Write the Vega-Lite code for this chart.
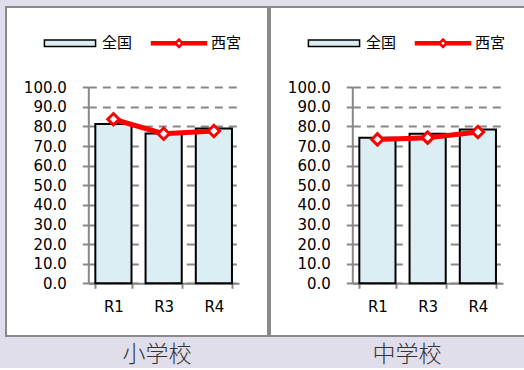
{
  "$schema": "https://vega.github.io/schema/vega-lite/v6.json",
  "background": "#e1deec",
  "padding": {"left": 5, "top": 6, "right": 0, "bottom": 0},
  "config": {
    "view": {"fill": "white", "stroke": "#8a8a8a", "strokeWidth": 2},
    "axis": {"labelFont": "DejaVu Sans", "labelFontSize": 15, "labelColor": "#000", "title": null},
    "legend": {
      "orient": "none", "legendX": 35.5, "legendY": 7.5, "direction": "horizontal", "title": null, "padding": 0,
      "symbolSize": 3025, "symbolOpacity": 1, "labelFont": "Noto Sans CJK JP", "labelFontSize": 15, "labelColor": "#000", "labelOffset": 3.5, "columnPadding": 16
    }
  },
  "data": {
    "values": [
      {"school": "小学校", "period": "R1", "series": "全国", "value": 81.3},
      {"school": "小学校", "period": "R3", "series": "全国", "value": 76.4},
      {"school": "小学校", "period": "R4", "series": "全国", "value": 79.0},
      {"school": "小学校", "period": "R1", "series": "西宮", "value": 83.7},
      {"school": "小学校", "period": "R3", "series": "西宮", "value": 76.3},
      {"school": "小学校", "period": "R4", "series": "西宮", "value": 77.7},
      {"school": "中学校", "period": "R1", "series": "全国", "value": 74.2},
      {"school": "中学校", "period": "R3", "series": "全国", "value": 76.3},
      {"school": "中学校", "period": "R4", "series": "全国", "value": 78.5},
      {"school": "中学校", "period": "R1", "series": "西宮", "value": 73.4},
      {"school": "中学校", "period": "R3", "series": "西宮", "value": 74.3},
      {"school": "中学校", "period": "R4", "series": "西宮", "value": 77.2}
    ]
  },
  "spacing": 0,
  "resolve": {
    "scale": {"color": "independent", "x": "independent", "y": "independent"},
    "legend": {"color": "independent"}
  },
  "hconcat": [
    {
      "width": 262,
      "height": 329,
      "title": {"text": "小学校", "orient": "bottom", "anchor": "middle", "dx": 20, "offset": 8, "font": "Noto Sans CJK JP", "fontSize": 23, "fontWeight": 300, "color": "#333"},
      "transform": [{"filter": "datum.school === '小学校'"}],
      "encoding": {
        "x": {
          "field": "period", "type": "nominal", "sort": ["R1", "R3", "R4"],
          "scale": {"range": [82.3, 233], "paddingInner": 0.28, "paddingOuter": 0.14},
          "axis": {"orient": "bottom", "offset": -52.7, "labelAngle": 0, "tickBand": "extent", "tickSize": 5, "tickWidth": 2, "tickColor": "#888", "domainColor": "#888", "domainWidth": 2, "labelPadding": 11}
        },
        "y": {
          "field": "value", "type": "quantitative",
          "scale": {"domain": [0, 100], "range": [276.3, 80.3], "nice": false},
          "axis": {"values": [0, 10, 20, 30, 40, 50, 60, 70, 80, 90, 100], "format": ".1f", "offset": -82.3, "tickSize": 6, "tickWidth": 2, "tickColor": "#888", "domainColor": "#888", "domainWidth": 2, "grid": true, "gridColor": "#888", "gridWidth": 2, "gridDash": [8, 6], "labelPadding": 16}
        }
      },
      "layer": [
        {
          "transform": [{"filter": "datum.series === '全国'"}],
          "mark": {"type": "bar", "stroke": "#000", "strokeWidth": 2},
          "encoding": {
            "color": {
              "field": "series", "type": "nominal",
              "scale": {"domain": ["全国", "西宮"], "range": ["#daeef3", "#ff0000"]},
              "legend": {
                "symbolType": {"expr": "datum.value === '全国' ? 'M-0.93,-0.12H0.93V0.12H-0.93Z' : 'M-1.0,-0.055H-0.1V0.055H-1.0Z M0.1,-0.055H1.0V0.055H0.1Z M0,-0.16L0.16,0L0,0.16L-0.16,0Z M0,-0.1L-0.1,0L0,0.1L0.1,0Z'"},
                "symbolStrokeColor": {"expr": "datum.value === '全国' ? '#000' : '#ff0000'"}
              }
            }
          }
        },
        {
          "transform": [{"filter": "datum.series === '西宮'"}],
          "mark": {"type": "line", "color": "#ff0000", "strokeWidth": 5}
        },
        {
          "transform": [{"filter": "datum.series === '西宮'"}],
          "mark": {"type": "point", "shape": "diamond", "filled": true, "fill": "white", "stroke": "#ff0000", "strokeWidth": 3, "size": 130, "opacity": 1}
        }
      ]
    },
    {
      "width": 262,
      "height": 329,
      "title": {"text": "中学校", "orient": "bottom", "anchor": "middle", "dx": 6, "offset": 8, "font": "Noto Sans CJK JP", "fontSize": 23, "fontWeight": 300, "color": "#333"},
      "transform": [{"filter": "datum.school === '中学校'"}],
      "encoding": {
        "x": {
          "field": "period", "type": "nominal", "sort": ["R1", "R3", "R4"],
          "scale": {"range": [82.3, 233], "paddingInner": 0.28, "paddingOuter": 0.14},
          "axis": {"orient": "bottom", "offset": -52.7, "labelAngle": 0, "tickBand": "extent", "tickSize": 5, "tickWidth": 2, "tickColor": "#888", "domainColor": "#888", "domainWidth": 2, "labelPadding": 11}
        },
        "y": {
          "field": "value", "type": "quantitative",
          "scale": {"domain": [0, 100], "range": [276.3, 80.3], "nice": false},
          "axis": {"values": [0, 10, 20, 30, 40, 50, 60, 70, 80, 90, 100], "format": ".1f", "offset": -82.3, "tickSize": 6, "tickWidth": 2, "tickColor": "#888", "domainColor": "#888", "domainWidth": 2, "grid": true, "gridColor": "#888", "gridWidth": 2, "gridDash": [8, 6], "labelPadding": 16}
        }
      },
      "layer": [
        {
          "transform": [{"filter": "datum.series === '全国'"}],
          "mark": {"type": "bar", "stroke": "#000", "strokeWidth": 2},
          "encoding": {
            "color": {
              "field": "series", "type": "nominal",
              "scale": {"domain": ["全国", "西宮"], "range": ["#daeef3", "#ff0000"]},
              "legend": {
                "symbolType": {"expr": "datum.value === '全国' ? 'M-0.93,-0.12H0.93V0.12H-0.93Z' : 'M-1.0,-0.055H-0.1V0.055H-1.0Z M0.1,-0.055H1.0V0.055H0.1Z M0,-0.16L0.16,0L0,0.16L-0.16,0Z M0,-0.1L-0.1,0L0,0.1L0.1,0Z'"},
                "symbolStrokeColor": {"expr": "datum.value === '全国' ? '#000' : '#ff0000'"}
              }
            }
          }
        },
        {
          "transform": [{"filter": "datum.series === '西宮'"}],
          "mark": {"type": "line", "color": "#ff0000", "strokeWidth": 5}
        },
        {
          "transform": [{"filter": "datum.series === '西宮'"}],
          "mark": {"type": "point", "shape": "diamond", "filled": true, "fill": "white", "stroke": "#ff0000", "strokeWidth": 3, "size": 130, "opacity": 1}
        }
      ]
    }
  ]
}
